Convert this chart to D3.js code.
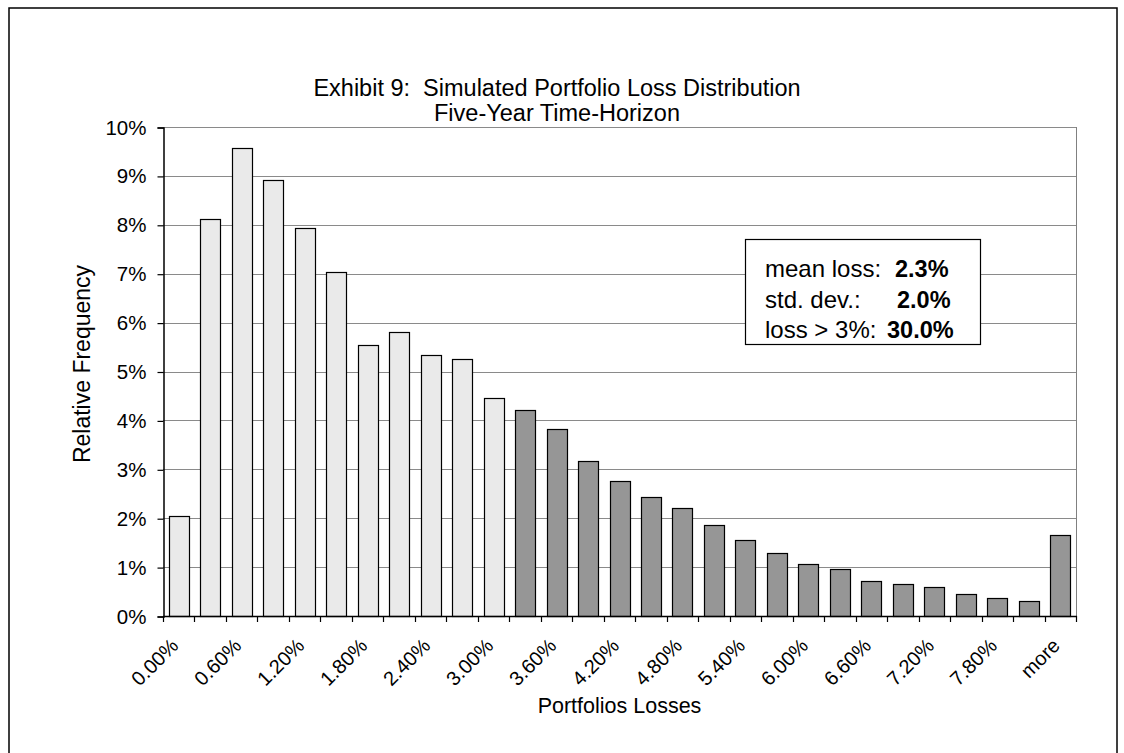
<!DOCTYPE html>
<html>
<head>
<meta charset="utf-8">
<script src="https://cdn.jsdelivr.net/npm/d3@7"></script>
<style>
  html, body { margin: 0; padding: 0; background: #fff; }
  svg { display: block; font-family: "Liberation Sans", Arial, sans-serif; }
</style>
</head>
<body>
<svg id="chart" width="1124" height="753"></svg>
<script>
// Histogram bins (loss buckets) and their relative frequencies, in percent
const binLabels = ["0.00%","0.30%","0.60%","0.90%","1.20%","1.50%","1.80%","2.10%","2.40%","2.70%",
                   "3.00%","3.30%","3.60%","3.90%","4.20%","4.50%","4.80%","5.10%","5.40%","5.70%",
                   "6.00%","6.30%","6.60%","6.90%","7.20%","7.50%","7.80%","8.10%","more"];
const frequencies = [2.05, 8.12, 9.58, 8.92, 7.93, 7.03, 5.55, 5.80, 5.33, 5.26,
                     4.45, 4.22, 3.82, 3.16, 2.76, 2.43, 2.21, 1.87, 1.56, 1.28,
                     1.06, 0.96, 0.72, 0.65, 0.59, 0.44, 0.37, 0.31, 1.66];
// bins at or beyond this index are losses above 3%
const tailStart = 11;
const yTicks = [0, 1, 2, 3, 4, 5, 6, 7, 8, 9, 10];
const titleLines = ["Exhibit 9:  Simulated Portfolio Loss Distribution", "Five-Year Time-Horizon"];
const statLabels = ["mean loss:", "std. dev.:", "loss > 3%:"];
const statValues = ["2.3%", "2.0%", "30.0%"];

const svg = d3.select("#chart");

// outer chart frame
svg.append("rect")
  .attr("x", 9).attr("y", 8).attr("width", 1108).attr("height", 780)
  .attr("fill", "#fff").attr("stroke", "#000").attr("stroke-width", 1.5);

const plot = { left: 163, top: 127, right: 1076, bottom: 616 };

const x = d3.scaleBand()
  .domain(binLabels)
  .range([plot.left, plot.right])
  .paddingInner(0.365)
  .paddingOuter(0.1825);

const y = d3.scaleLinear()
  .domain([0, 10])
  .range([plot.bottom, plot.top]);

// horizontal gridlines
svg.append("g")
  .selectAll("line")
  .data(yTicks.slice(1))
  .join("line")
  .attr("x1", plot.left).attr("x2", plot.right)
  .attr("y1", d => Math.round(y(d)) + 0.5).attr("y2", d => Math.round(y(d)) + 0.5)
  .attr("stroke", "#8a8a8a").attr("stroke-width", 1);

// plot area right edge
svg.append("line")
  .attr("x1", plot.right + 0.5).attr("x2", plot.right + 0.5)
  .attr("y1", plot.top).attr("y2", plot.bottom)
  .attr("stroke", "#808080").attr("stroke-width", 1);

// bars
svg.append("g")
  .selectAll("rect")
  .data(frequencies)
  .join("rect")
  .attr("x", (d, i) => Math.round(x(binLabels[i])) + 0.5)
  .attr("y", d => Math.round(y(d)) + 0.5)
  .attr("width", Math.round(x.bandwidth()))
  .attr("height", d => Math.round(y(0)) - Math.round(y(d)))
  .attr("fill", (d, i) => i >= tailStart ? "#969696" : "#eaeaea")
  .attr("stroke", "#000")
  .attr("stroke-width", 1.2);

// y axis
const yAxis = d3.axisLeft(y)
  .tickValues(yTicks)
  .tickFormat(d => d + "%")
  .tickSize(6)
  .tickPadding(11);
svg.append("g")
  .attr("transform", `translate(${plot.left + 0.5},0.5)`)
  .call(yAxis)
  .call(g => g.select(".domain").attr("stroke", "#000").attr("stroke-width", 1.5))
  .call(g => g.selectAll(".tick line").attr("stroke", "#000").attr("stroke-width", 1.2))
  .call(g => g.selectAll(".tick text")
    .attr("font-size", 20.5).attr("fill", "#000")
    .attr("font-family", "'Liberation Sans', Arial, sans-serif"));

// x axis: tick marks at bin boundaries, labels on every other bin
const step = x.step();
const boundaries = d3.range(binLabels.length + 1).map(i => x(binLabels[0]) - x.paddingOuter() * step + i * step);
const xg = svg.append("g");
xg.append("line")
  .attr("x1", plot.left).attr("x2", plot.right + 1)
  .attr("y1", plot.bottom + 0.5).attr("y2", plot.bottom + 0.5)
  .attr("stroke", "#000").attr("stroke-width", 1.5);
xg.selectAll("line.tick")
  .data(boundaries)
  .join("line")
  .attr("class", "tick")
  .attr("x1", d => Math.round(d) + 0.5).attr("x2", d => Math.round(d) + 0.5)
  .attr("y1", plot.bottom).attr("y2", plot.bottom + 6)
  .attr("stroke", "#000").attr("stroke-width", 1.2);
xg.selectAll("text")
  .data(binLabels.filter((d, i) => i % 2 === 0))
  .join("text")
  .attr("transform", d => `translate(${x(d) + x.bandwidth() / 2 - 4},${plot.bottom + 26}) rotate(-45)`)
  .attr("text-anchor", "end")
  .attr("dy", "0.35em")
  .attr("font-size", 20)
  .attr("fill", "#000")
  .text(d => d);

// axis titles
svg.append("text")
  .attr("x", (plot.left + plot.right) / 2).attr("y", 713)
  .attr("text-anchor", "middle").attr("font-size", 21.5)
  .text("Portfolios Losses");
svg.append("text")
  .attr("transform", `translate(90,364) rotate(-90)`)
  .attr("text-anchor", "middle").attr("font-size", 23)
  .text("Relative Frequency");

// chart title (two centred lines)
svg.append("g")
  .selectAll("text")
  .data(titleLines)
  .join("text")
  .attr("x", 557)
  .attr("y", (d, i) => 96 + i * 25)
  .attr("text-anchor", "middle")
  .attr("font-size", 23.5)
  .style("white-space", "pre")
  .text(d => d);

// summary statistics box
const box = svg.append("g");
box.append("rect")
  .attr("x", 745.5).attr("y", 239.5).attr("width", 235).attr("height", 105)
  .attr("fill", "#fff").attr("stroke", "#000").attr("stroke-width", 1.2);
const statBaselines = [277, 307.5, 338];
const valueX = [895, 897, 887];
box.selectAll("text.lbl")
  .data(statLabels)
  .join("text")
  .attr("class", "lbl")
  .attr("x", 765).attr("y", (d, i) => statBaselines[i])
  .attr("font-size", 24)
  .text(d => d);
box.selectAll("text.val")
  .data(statValues)
  .join("text")
  .attr("class", "val")
  .attr("x", (d, i) => valueX[i]).attr("y", (d, i) => statBaselines[i])
  .attr("font-size", 23.5).attr("font-weight", "bold")
  .text(d => d);
</script>
</body>
</html>
